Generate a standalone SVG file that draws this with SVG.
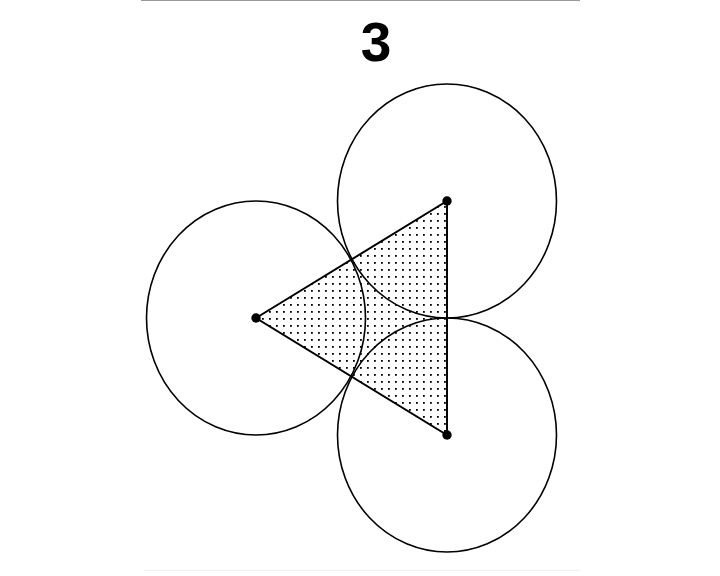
<svg xmlns="http://www.w3.org/2000/svg" width="720" height="576" viewBox="0 0 720 576">
<style>
.c{fill:none;stroke:#000;stroke-width:1.6}
.v{fill:#000}
</style>
<defs>
<pattern id="dots" patternUnits="userSpaceOnUse" x="0" y="0" width="7" height="7">
<rect x="3" y="3" width="1.8" height="1.8" fill="#000"/>
</pattern>
</defs>
<rect width="720" height="576" fill="#fff"/>
<line x1="141" y1="0.5" x2="580" y2="0.5" stroke="#999" stroke-width="1.2"/>
<line x1="144" y1="570.5" x2="580" y2="570.5" stroke="#f0f0f0" stroke-width="1"/>
<text x="376" y="61" font-family="Liberation Sans, Arial, sans-serif" font-weight="bold" font-size="55" text-anchor="middle">3</text>
<g id="triangle">
<polygon points="256,318 447,201 447,435" fill="url(#dots)" stroke="#000" stroke-width="2"/>
</g>
<g id="circles">
<ellipse id="circle-left" class="c" cx="256" cy="318" rx="109.5" ry="117"/>
<ellipse id="circle-top" class="c" cx="447" cy="201" rx="109.5" ry="117"/>
<ellipse id="circle-bottom" class="c" cx="447" cy="435" rx="109.5" ry="117"/>
</g>
<g id="vertices">
<circle class="v" cx="256" cy="318" r="4.7"/>
<circle class="v" cx="447" cy="201" r="4.7"/>
<circle class="v" cx="447" cy="435" r="4.7"/>
</g>
</svg>
